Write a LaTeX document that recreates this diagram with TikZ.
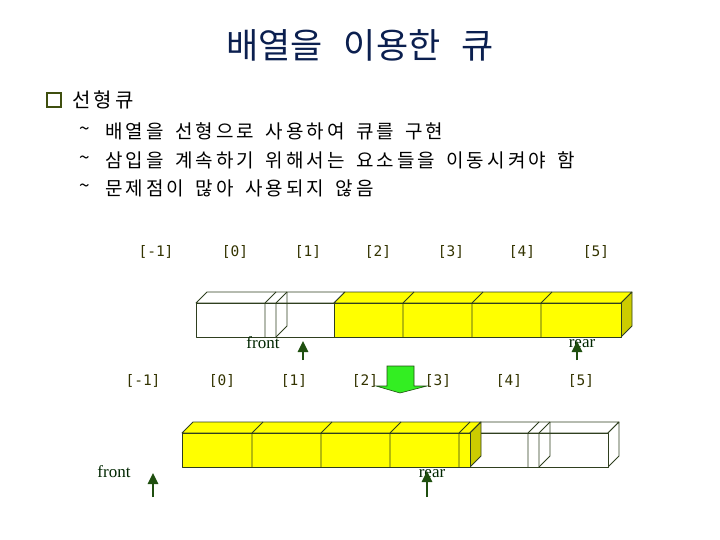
\documentclass[tikz,border=0pt]{standalone}
\usepackage{fontspec}
\setmainfont{Liberation Serif}
\newfontfamily\krfont{Noto Sans CJK KR}
\newfontfamily\krwide[LetterSpace=16]{Noto Sans CJK KR}
\newfontfamily\idxfont{DejaVu Sans Mono}
\usetikzlibrary{arrows.meta}
\definecolor{titleBlue}{HTML}{0B1F4F}
\definecolor{cellLine}{HTML}{2F3F1F}
\definecolor{cellYellow}{HTML}{FFFF00}
\definecolor{cellSide}{HTML}{CCCC00}
\definecolor{ptrGreen}{HTML}{1F4F0F}
\definecolor{moveGreen}{HTML}{33EE22}
\definecolor{idxText}{HTML}{333300}
\definecolor{boxOlive}{HTML}{3F4F0F}

\begin{document}
\begin{tikzpicture}[x=1pt,y=-1pt,
  wide/.style={execute at begin node={\spaceskip=0.6em\relax}},
  title/.style={font=\krfont\fontsize{35}{40}\selectfont,wide,
                text=titleBlue,inner sep=0pt},
  bodytext/.style={anchor=west,inner sep=0pt,wide,
                   font=\krwide\fontsize{19}{22}\selectfont},
  idx/.style={font=\idxfont\fontsize{14.5}{17}\selectfont,text=idxText,inner sep=0pt},
  ptrlabel/.style={font=\fontsize{17}{19}\selectfont,text=black!85!green,inner sep=0pt},
  ptr/.style={-{Triangle[length=11pt,width=10pt]},line width=2.5pt,ptrGreen},
  cell/.style={draw=cellLine,line width=0.8pt,line join=round},
]
  \useasboundingbox (0,0) rectangle (720,540);

  % heading and bullets
  \node[title] (head) at (360,45) {배열을 이용한 큐};
  \node[draw=boxOlive,line width=1.6pt,minimum size=14pt,inner sep=0pt] (chk) at (54,100) {};
  \node[bodytext,font=\krwide\fontsize{20}{23}\selectfont] (lin) at (72,100) {선형큐};
  \node[bodytext] (t1) at (105,131) {배열을 선형으로 사용하여 큐를 구현};
  \node[bodytext] (t2) at (105,160) {삼입을 계속하기 위해서는 요소들을 이동시켜야 함};
  \node[bodytext] (t3) at (105,188) {문제점이 많아 사용되지 않음};
  \foreach \y/\n in {131/1,160/2,188/3}
    \node[bodytext,anchor=center] (tl\n) at (85,\y) {\~{}};

  % index labels, upper array
  \foreach \x/\t [count=\i] in {156/-1,235/0,308/1,378/2,451/3,522/4,596/5}
    \node[idx] (ua\i) at (\x,252) {[\t]};

  % upper array
  \filldraw[cell,fill=white] (196,303) -- (207,292) -- (345,292) -- (334,303) -- cycle;
  \filldraw[cell,fill=cellYellow] (334,303) -- (345,292) -- (632,292) -- (621,303) -- cycle;
  \filldraw[cell,fill=cellSide] (621,303) -- (632,292) -- (632,326) -- (621,337) -- cycle;
  \filldraw[cell,fill=white] (196,303) rectangle (334,337);
  \filldraw[cell,fill=cellYellow] (334,303) rectangle (621,337);
  \foreach \x in {265,276,403,472,541}
    \draw[cell] (\x,303) -- (\x,337) (\x,303) -- ++(11,-11);
  \draw[cell] (276,337) -- (287,326) -- (287,292);

  \node[ptrlabel] (uf) at (263,343) {front};
  \node[ptrlabel] (ur) at (582,344) {rear};
  \coordinate (ufp) at (303,360);
  \coordinate (ufq) at (303,341);
  \coordinate (urp) at (577,360);
  \coordinate (urq) at (577,341);
  \draw[ptr] (ufp) -- (ufq);
  \draw[ptr] (urp) -- (urq);

  % move arrow
  \filldraw[draw=ptrGreen,fill=moveGreen,line width=0.6pt]
    (387,366) -- (414,366) -- (414,386) -- (427,386) -- (400,393)
    -- (376,386) -- (387,386) -- cycle;

  % index labels, lower array
  \foreach \x/\t [count=\i] in {143/-1,222/0,294/1,365/2,438/3,509/4,581/5}
    \node[idx] (la\i) at (\x,381) {[\t]};

  % lower array
  \filldraw[cell,fill=cellYellow] (182,433) -- (193,422) -- (481,422) -- (470,433) -- cycle;
  \filldraw[cell,fill=white] (470,433) -- (481,422) -- (619,422) -- (608,433) -- cycle;
  \filldraw[cell,fill=white] (608,433) -- (619,422) -- (619,456) -- (608,467) -- cycle;
  \filldraw[cell,fill=white] (470,433) rectangle (608,467);
  \filldraw[cell,fill=cellSide] (470,433) -- (481,422) -- (481,456) -- (470,467) -- cycle;
  \filldraw[cell,fill=cellYellow] (182,433) rectangle (470,467);
  \foreach \x in {252,321,390,459,528,539}
    \draw[cell] (\x,433) -- (\x,467) (\x,433) -- ++(11,-11);
  \draw[cell] (539,467) -- (550,456) -- (550,422);

  \node[ptrlabel] (lf) at (114,472) {front};
  \node[ptrlabel] (lr) at (432,474) {rear};
  \coordinate (lfp) at (153,497);
  \coordinate (lfq) at (153,473);
  \coordinate (lrp) at (427,497);
  \coordinate (lrq) at (427,471);
  \draw[ptr] (lfp) -- (lfq);
  \draw[ptr] (lrp) -- (lrq);
\end{tikzpicture}
\end{document}
